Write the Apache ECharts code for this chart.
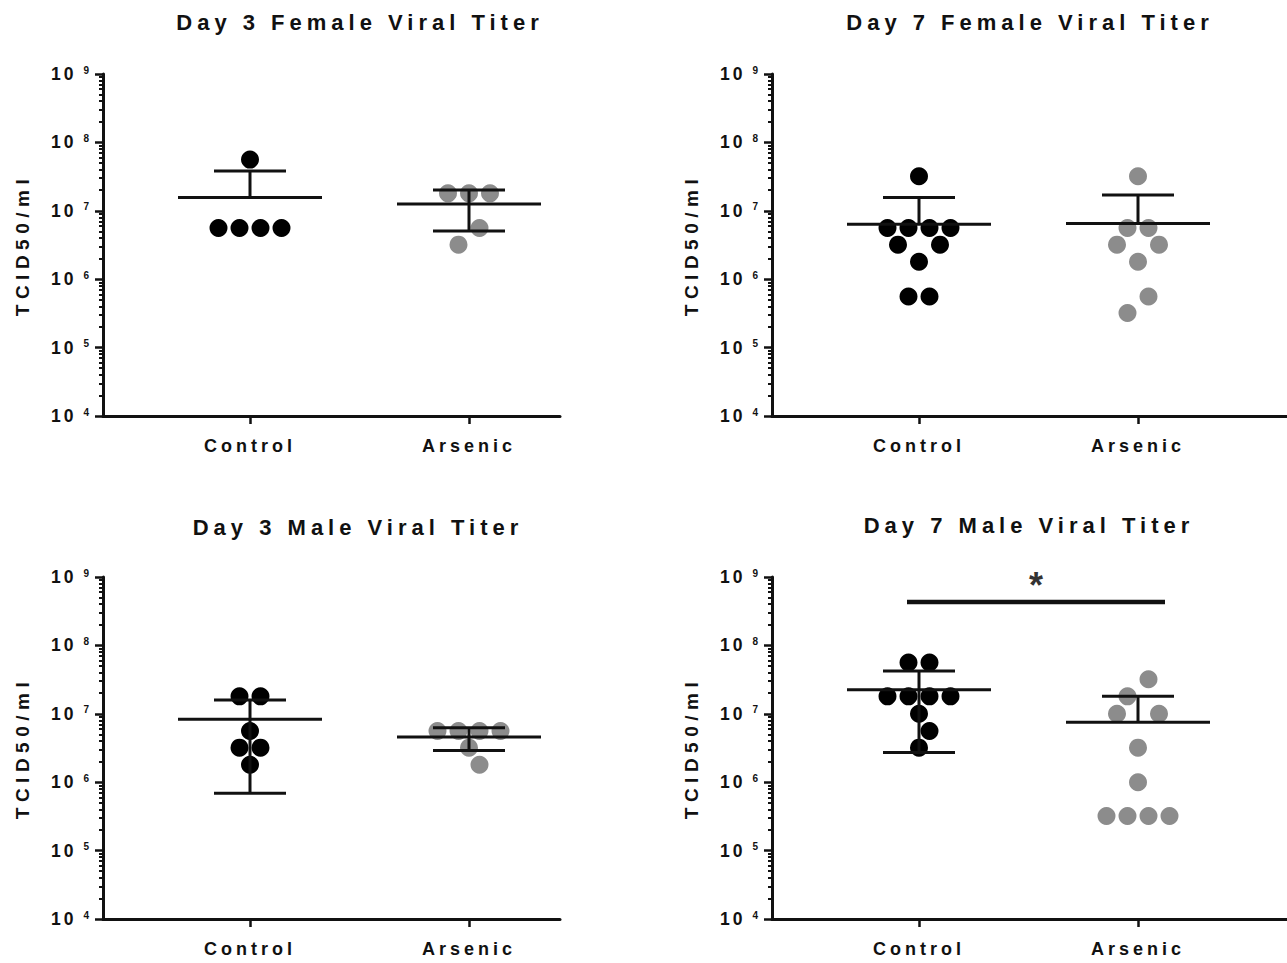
<!DOCTYPE html>
<html>
<head>
<meta charset="utf-8">
<script src="https://cdn.jsdelivr.net/npm/echarts@6/dist/echarts.min.js"></script>
<style>
  html, body { margin: 0; padding: 0; background: #ffffff; }
  #chart { width: 1287px; height: 963px; }
  /* GraphPad-style spaced lettering */
  #chart svg text[style*="22px"] { letter-spacing: 5px; }
  #chart svg text[style*="19px"] { letter-spacing: 5.5px; }
  #chart svg text[style*="18px"] { letter-spacing: 4px; }
  #chart svg text[style*="17.5px"] { letter-spacing: 3px; }
</style>
</head>
<body>
<div id="chart"></div>
<script>
// ---------------- data ----------------
const categories = ['Control', 'Arsenic'];
const panelTitles = [
  'Day 3 Female Viral Titer',
  'Day 7 Female Viral Titer',
  'Day 3 Male Viral Titer',
  'Day 7 Male Viral Titer'
];
const yAxisName = 'TCID50/ml';
const yTickExponents = [4, 5, 6, 7, 8, 9];

const day3FemaleControl = [5.6e7, 5.6e6, 5.6e6, 5.6e6, 5.6e6];
const day3FemaleArsenic = [1.8e7, 1.8e7, 1.8e7, 5.6e6, 3.2e6];
const day7FemaleControl = [3.2e7, 5.6e6, 5.6e6, 5.6e6, 5.6e6, 3.2e6, 3.2e6, 1.8e6, 5.6e5, 5.6e5];
const day7FemaleArsenic = [3.2e7, 5.6e6, 5.6e6, 3.2e6, 3.2e6, 1.8e6, 5.6e5, 3.2e5];
const day3MaleControl = [1.8e7, 1.8e7, 5.6e6, 3.2e6, 3.2e6, 1.8e6];
const day3MaleArsenic = [5.6e6, 5.6e6, 5.6e6, 5.6e6, 3.2e6, 1.8e6];
const day7MaleControl = [5.6e7, 5.6e7, 1.8e7, 1.8e7, 1.8e7, 1.8e7, 1.0e7, 5.6e6, 3.2e6];
const day7MaleArsenic = [3.2e7, 1.8e7, 1.0e7, 1.0e7, 3.2e6, 1.0e6, 3.2e5, 3.2e5, 3.2e5, 3.2e5];

// significance annotation (Day 7 Male panel)
const significance = { panel: 3, fromCategory: 'Control', toCategory: 'Arsenic', level: 4.3e8, label: '*' };

// ---------------- layout / style ----------------
const FONT = "'Liberation Sans', Arial, sans-serif";
const INK = '#111111';
const COLORS = ['#000000', '#8c8c8c'];
const panelData = [
  [day3FemaleControl, day3FemaleArsenic],
  [day7FemaleControl, day7FemaleArsenic],
  [day3MaleControl, day3MaleArsenic],
  [day7MaleControl, day7MaleArsenic]
];
const layout = [
  { left: 103, top: 74, width: 457, titleX: 360, titleY: 22 },
  { left: 772, top: 74, width: 520, titleX: 1030, titleY: 22 },
  { left: 103, top: 577, width: 457, titleX: 358, titleY: 527 },
  { left: 772, top: 577, width: 520, titleX: 1029, titleY: 525 }
];
const GRID_H = 342;
const PX_PER_UNIT = 219;      // distance between the two groups
const FIRST_GROUP_PX = 147;   // distance from y axis to first group
const X_MIN = 1 - FIRST_GROUP_PX / PX_PER_UNIT;
const MEAN_HALF = 72 / PX_PER_UNIT;
const CAP_HALF = 36 / PX_PER_UNIT;
const DOT = 18, SPACING = 21, MIN_DIST = 18;
const SIG_PAD_LEFT = 12 / PX_PER_UNIT, SIG_PAD_RIGHT = 27 / PX_PER_UNIT;

const LOG_MIN = Math.min(...yTickExponents), LOG_MAX = Math.max(...yTickExponents);
const minorTickValues = [];
for (let e = LOG_MIN; e < LOG_MAX; e++) for (let k = 2; k <= 9; k++) minorTickValues.push(k * Math.pow(10, e));

// ---------------- statistics ----------------
function meanSd(vals) {
  const n = vals.length;
  const m = vals.reduce((a, b) => a + b, 0) / n;
  const sd = Math.sqrt(vals.reduce((a, b) => a + (b - m) * (b - m), 0) / (n - 1));
  return [m, sd];
}

// ---------------- beeswarm placement (pixel space) ----------------
function yPix(v) { return GRID_H * (Math.log10(v) - LOG_MIN) / (LOG_MAX - LOG_MIN); }
function swarm(values) {
  const out = new Array(values.length).fill(0);
  const uniq = [...new Set(values)].sort((a, b) => b - a);
  const placed = [];
  let lastGroup = null;
  const ok = (x, y, skip) => placed.every(p => p === skip || Math.hypot(p.x - x, p.y - y) >= MIN_DIST);
  const shifts = [0, SPACING / 2, -SPACING / 2, SPACING, -SPACING, 1.5 * SPACING, -1.5 * SPACING, 2 * SPACING, -2 * SPACING];
  uniq.forEach(v => {
    const idx = values.map((val, i) => val === v ? i : -1).filter(i => i >= 0);
    const n = idx.length, y = yPix(v);
    let offs = null;
    if (n > 1) {
      const widths = n === 2 ? [SPACING, 2 * SPACING] : [SPACING];
      outer: for (const c of shifts) {
        for (const w of widths) {
          const cand = idx.map((_, k) => (k - (n - 1) / 2) * w + c);
          if (cand.every(x => ok(x, y))) { offs = cand; break outer; }
        }
      }
    } else {
      if (ok(0, y)) offs = [0];
      else {
        if (lastGroup && lastGroup.length === 1 && lastGroup[0].x === 0) {
          const prev = lastGroup[0];
          if (ok(SPACING / 2, prev.y, prev)) {
            const oldX = prev.x; prev.x = SPACING / 2;
            if (ok(-SPACING / 2, y)) { out[prev.i] = prev.x; offs = [-SPACING / 2]; }
            else prev.x = oldX;
          }
        }
        if (!offs) for (const c of shifts.slice(1)) { if (ok(c, y)) { offs = [c]; break; } }
      }
    }
    if (!offs) offs = idx.map(() => 0);
    const grp = idx.map((i, k) => { const p = { x: offs[k], y, i }; placed.push(p); out[i] = offs[k]; return p; });
    lastGroup = grp;
  });
  return out;
}

// ---------------- build option ----------------
const grids = [], xAxes = [], yAxes = [], series = [], graphics = [];

layout.forEach((L, p) => {
  grids.push({ left: L.left, top: L.top, width: L.width, height: GRID_H, containLabel: false, outerBoundsMode: 'none' });
  xAxes.push({
    type: 'value', gridIndex: p, min: X_MIN, max: X_MIN + L.width / PX_PER_UNIT,
    axisLine: { show: true, onZero: false, lineStyle: { color: INK, width: 3 } },
    axisTick: { show: true, customValues: [1, 2], length: 8, lineStyle: { color: INK, width: 2.5 } },
    axisLabel: {
      customValues: [1, 2], margin: 21,
      formatter: v => categories[Math.round(v) - 1],
      fontSize: 18, fontWeight: 'bold', fontFamily: FONT, color: INK
    },
    splitLine: { show: false }
  });
  yAxes.push({
    type: 'log', logBase: 10, gridIndex: p, min: Math.pow(10, LOG_MIN), max: Math.pow(10, LOG_MAX),
    position: 'left',
    axisLine: { show: true, lineStyle: { color: INK, width: 3 } },
    axisTick: { show: true, length: 8, lineStyle: { color: INK, width: 2.5 } },
    axisLabel: {
      margin: 14, showMinLabel: true, showMaxLabel: true,
      formatter: v => '{b|10}{s|' + Math.round(Math.log10(v)) + '}',
      rich: {
        b: { fontSize: 17.5, fontWeight: 'bold', fontFamily: FONT, color: INK },
        s: { fontSize: 10, fontWeight: 'bold', fontFamily: FONT, color: INK, verticalAlign: 'top', padding: [0, 0, 0, 7] }
      }
    },
    splitLine: { show: false },
    name: yAxisName, nameLocation: 'middle', nameGap: 71,
    nameTextStyle: { fontSize: 19, fontWeight: 'bold', fontFamily: FONT, color: INK }
  });
  yAxes.push({
    type: 'log', logBase: 10, gridIndex: p, min: Math.pow(10, LOG_MIN), max: Math.pow(10, LOG_MAX),
    position: 'left',
    axisLine: { show: false },
    axisLabel: { show: false },
    axisTick: { show: true, customValues: minorTickValues, length: 4, lineStyle: { color: INK, width: 2 } },
    splitLine: { show: false }
  });

  const stats = [];
  panelData[p].forEach((vals, g) => {
    const offs = swarm(vals);
    series.push({
      type: 'scatter', xAxisIndex: p, yAxisIndex: p * 2,
      symbol: 'circle', symbolSize: DOT, z: 2,
      itemStyle: { color: COLORS[g], opacity: 1 },
      data: vals.map((v, i) => [g + 1 + offs[i] / PX_PER_UNIT, v])
    });
    const [m, sd] = meanSd(vals);
    stats.push([g + 1, m, m - sd > 0 ? m - sd : 0, m + sd]);
  });

  series.push({
    type: 'custom', xAxisIndex: p, yAxisIndex: p * 2, z: 5, silent: true,
    encode: { x: 0, y: 1 },
    data: stats,
    renderItem: (params, api) => {
      const x = api.value(0), m = api.value(1), lo = api.value(2), hi = api.value(3);
      const st = { stroke: INK, lineWidth: 3 };
      const c = api.coord([x, m]);
      const a = api.coord([x - MEAN_HALF, m]), b = api.coord([x + MEAN_HALF, m]);
      const children = [{ type: 'line', shape: { x1: a[0], y1: a[1], x2: b[0], y2: b[1] }, style: st }];
      const ends = [hi];
      if (lo > 0) ends.push(lo);
      ends.forEach(e => {
        const t = api.coord([x, e]);
        const l = api.coord([x - CAP_HALF, e]), r = api.coord([x + CAP_HALF, e]);
        children.push({ type: 'line', shape: { x1: c[0], y1: c[1], x2: t[0], y2: t[1] }, style: st });
        children.push({ type: 'line', shape: { x1: l[0], y1: l[1], x2: r[0], y2: r[1] }, style: st });
      });
      return { type: 'group', children };
    }
  });

  graphics.push({
    type: 'text', x: L.titleX, y: L.titleY, silent: true,
    style: { text: panelTitles[p], fontSize: 22, fontWeight: 'bold', fontFamily: FONT, fill: INK, align: 'center', verticalAlign: 'middle' }
  });
});

// significance bar
{
  const s = significance;
  const x1 = categories.indexOf(s.fromCategory) + 1 - SIG_PAD_LEFT;
  const x2 = categories.indexOf(s.toCategory) + 1 + SIG_PAD_RIGHT;
  series.push({
    type: 'custom', xAxisIndex: s.panel, yAxisIndex: s.panel * 2, z: 6, silent: true,
    encode: { x: 0, y: 2 },
    data: [[x1, x2, s.level]],
    renderItem: (params, api) => {
      const a = api.coord([api.value(0), api.value(2)]);
      const b = api.coord([api.value(1), api.value(2)]);
      return {
        type: 'group', children: [
          { type: 'line', shape: { x1: a[0], y1: a[1], x2: b[0], y2: b[1] }, style: { stroke: INK, lineWidth: 4.5 } },
          { type: 'text', x: (a[0] + b[0]) / 2, y: a[1] + 1,
            style: { text: s.label, fontSize: 36, fontWeight: 'bold', fontFamily: FONT, fill: '#333', align: 'center', verticalAlign: 'bottom' } }
        ]
      };
    }
  });
}

const chart = echarts.init(document.getElementById('chart'), null, { renderer: 'svg', width: 1287, height: 963 });
chart.setOption({
  backgroundColor: '#ffffff',
  animation: false,
  grid: grids,
  xAxis: xAxes,
  yAxis: yAxes,
  series: series,
  graphic: graphics
});
</script>
</body>
</html>
